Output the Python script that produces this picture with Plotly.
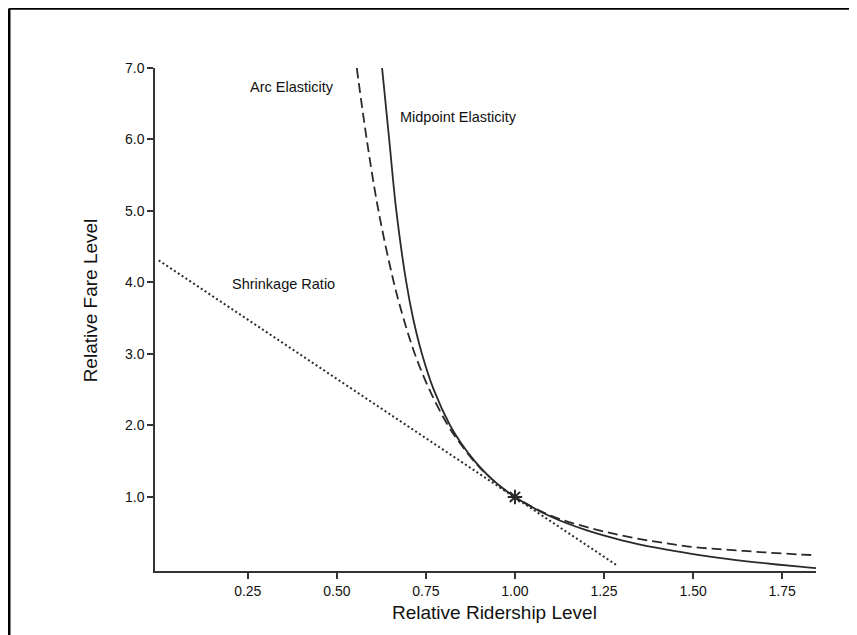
import plotly.graph_objects as go

# ---- data ----
midpoint_x = [0.627, 0.647, 0.667, 0.695, 0.714, 0.739, 0.772, 0.818, 0.849, 0.887, 0.935, 1.0,
              1.1, 1.2, 1.3, 1.4, 1.5, 1.6, 1.7, 1.8, 1.845]
midpoint_y = [7.0, 6.0, 5.0, 4.0, 3.5, 3.0, 2.5, 2.0, 1.75, 1.5, 1.25, 1.0,
              0.726, 0.535, 0.394, 0.286, 0.2, 0.13, 0.073, 0.024, 0.005]

arc_x = [0.556, 0.584, 0.617, 0.660, 0.687, 0.719, 0.760, 0.812, 0.846, 0.885, 0.935, 1.0,
         1.1, 1.2, 1.3, 1.4, 1.5, 1.6, 1.7, 1.8, 1.845]
arc_y = [7.0, 6.0, 5.0, 4.0, 3.5, 3.0, 2.5, 2.0, 1.75, 1.5, 1.25, 1.0,
         0.74, 0.58, 0.46, 0.37, 0.30, 0.26, 0.225, 0.195, 0.185]

shrink_x = [0.0, 1.29]
shrink_y = [4.31, 0.03]

base_x = [1.0]
base_y = [1.0]

x_tickvals = [0.25, 0.50, 0.75, 1.00, 1.25, 1.50, 1.75]
x_ticktext = ["0.25", "0.50", "0.75", "1.00", "1.25", "1.50", "1.75"]
y_tickvals = [1, 2, 3, 4, 5, 6, 7]
y_ticktext = ["1.0", "2.0", "3.0", "4.0", "5.0", "6.0", "7.0"]

labels = ["Arc Elasticity", "Midpoint Elasticity", "Shrinkage Ratio"]
label_x = [0.251, 0.672, 0.20]
label_y = [6.73, 6.32, 3.98]

FONT = "Liberation Sans, Arial, Helvetica, sans-serif"
INK = "#2a2a2a"

fig = go.Figure()
fig.add_trace(go.Scatter(x=shrink_x, y=shrink_y, mode="lines",
                         line=dict(color=INK, width=2, dash="2px,2.6px"), hoverinfo="skip"))
fig.add_trace(go.Scatter(x=arc_x, y=arc_y, mode="lines", line_shape="spline",
                         line=dict(color=INK, width=1.8, dash="10px,5px"), hoverinfo="skip"))
fig.add_trace(go.Scatter(x=midpoint_x, y=midpoint_y, mode="lines", line_shape="spline",
                         line=dict(color=INK, width=1.8), hoverinfo="skip"))
fig.add_trace(go.Scatter(x=base_x, y=base_y, mode="markers",
                         marker=dict(symbol="asterisk-open", size=12, color=INK,
                                     line=dict(color=INK, width=2)), hoverinfo="skip"))

for t, lx, ly in zip(labels, label_x, label_y):
    fig.add_annotation(x=lx, y=ly, text=t, showarrow=False, xanchor="left", yanchor="middle",
                       font=dict(family=FONT, size=14.5, color="#111"))

fig.add_annotation(xref="paper", yref="paper", x=0.513, y=-0.082, text="Relative Ridership Level",
                   showarrow=False, xanchor="center", yanchor="middle",
                   font=dict(family=FONT, size=19, color="#111"))
fig.add_annotation(xref="paper", yref="paper", x=-0.098, y=0.5385, text="Relative Fare Level",
                   showarrow=False, xanchor="center", yanchor="middle", textangle=-90,
                   font=dict(family=FONT, size=19, color="#111"))

# outer frame (left and top edges visible)
fig.add_shape(type="line", xref="paper", yref="paper", x0=-0.2205, x1=1.6, y0=1.1184, y1=1.1184,
              line=dict(color="black", width=2.5))
fig.add_shape(type="line", xref="paper", yref="paper", x0=-0.2205, x1=-0.2205, y0=1.1184, y1=-0.3,
              line=dict(color="black", width=2.5))

fig.update_layout(
    width=849, height=627,
    margin=dict(l=147, r=41, t=60, b=64, pad=0),
    plot_bgcolor="white", paper_bgcolor="white",
    showlegend=False,
    font=dict(family=FONT, color="#111"),
)
fig.update_xaxes(range=[-0.0104, 1.845], showgrid=False, zeroline=False,
                 showline=True, linecolor="#333", linewidth=1.5,
                 ticks="outside", ticklen=6, tickwidth=1.5, tickcolor="#333",
                 tickvals=x_tickvals, ticktext=x_ticktext,
                 tickfont=dict(family=FONT, size=14, color="#111"))
fig.update_yaxes(range=[-0.036, 7.0], showgrid=False, zeroline=False,
                 showline=True, linecolor="#333", linewidth=1.5,
                 ticks="outside", ticklen=6, tickwidth=1.5, tickcolor="#333",
                 tickvals=y_tickvals, ticktext=y_ticktext,
                 tickfont=dict(family=FONT, size=14, color="#111"))

fig.write_html("out.html")
